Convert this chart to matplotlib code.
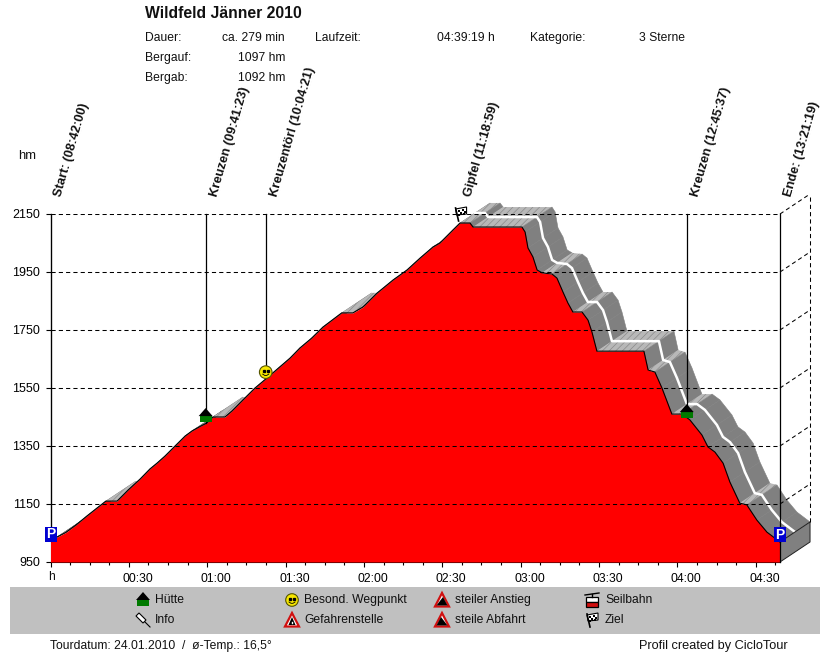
import matplotlib
matplotlib.use("Agg")
import matplotlib.pyplot as plt
from matplotlib.patches import Polygon, Circle, Rectangle
from matplotlib.transforms import ScaledTranslation

plt.rcParams['font.family'] = ['Liberation Sans', 'DejaVu Sans']
plt.rcParams['hatch.linewidth'] = 0.5

# Elevation profile
profile_min = [0, 2.5, 5.9, 9.8, 14, 17.8, 21.2, 25.5, 29.7, 34.3, 38.1, 40.8, 43.8, 47.7, 51.5, 54.2,
               57.6, 59.8, 62.2, 66.8, 69.5, 73.7, 78.3, 82.8, 91.7, 95.5, 100, 104.3, 111.5, 115.8,
               119.6, 125, 131.1, 136.5, 141.5, 146.4, 149.1, 154.1, 156.8, 160.6, 161.8, 180.5,
               181.7, 182.8, 184.7, 186.3, 188.2, 192, 193.9, 196.2, 198.1, 200, 203.5, 205.8, 207.3,
               209.2, 227.2, 228.8, 231.4, 234.1, 237.9, 241.8, 244.8, 249.4, 251.7, 254.4, 257.5,
               260.1, 263.9, 266.6, 270.4, 274.3, 279.3]
profile_hm = [1021, 1036, 1052, 1078, 1109, 1136, 1160, 1160, 1198, 1236, 1271, 1291, 1315, 1350, 1384, 1402,
              1419, 1429, 1450, 1450, 1471, 1509, 1550, 1584, 1653, 1688, 1722, 1760, 1809, 1809,
              1829, 1877, 1922, 1957, 1998, 2036, 2050, 2095, 2119, 2119, 2105, 2105,
              2088, 2033, 2002, 1957, 1947, 1943, 1929, 1881, 1843, 1812, 1812, 1784, 1743,
              1677, 1677, 1612, 1605, 1550, 1460, 1460, 1440, 1388, 1347, 1329, 1291,
              1226, 1153, 1147, 1095, 1053, 1019]

y_ticks = [950, 1150, 1350, 1550, 1750, 1950, 2150]
x_ticks = [0, 30, 60, 90, 120, 150, 180, 210, 240, 270]
x_labels = ['', '00:30', '01:00', '01:30', '02:00', '02:30', '03:00', '03:30', '04:00', '04:30']
minor_ticks = [7.5, 15, 22.5, 37.5, 45, 52.5, 67.5, 75, 82.5, 97.5, 105, 112.5, 127.5, 135, 142.5,
               157.5, 165, 172.5, 187.5, 195, 202.5, 217.5, 225, 232.5, 247.5, 255, 262.5, 277.5]

way_names = ['Start: (08:42:00)', 'Kreuzen (09:41:23)', 'Kreuzentörl (10:04:21)',
             'Gipfel (11:18:59)', 'Kreuzen (12:45:37)', 'Ende: (13:21:19)']
way_min = [0, 59.4, 82.4, 157.0, 243.6, 279.3]
way_hm = [1021, 1429, 1584, 2119, 1460, 1019]

total_min = 279.3
depth_min = 11.5   # 3D depth of the ribbon
depth_hm = 69

fig = plt.figure(figsize=(8.3, 6.52), dpi=100)
ax = fig.add_axes([50.5 / 830, (652 - 562) / 652, 729.5 / 830, 348 / 652])
ax.set_xlim(0, total_min)
ax.set_ylim(950, 2150)

# overlay in pixels for text and icons
ov = fig.add_axes([0, 0, 1, 1], zorder=5)
ov.set_xlim(0, 830)
ov.set_ylim(652, 0)
ov.axis('off')


def to_px(t, h):
    return ov.transData.inverted().transform(ax.transData.transform((t, h)))


# ribbon
for i in range(len(profile_min) - 1):
    t0, t1 = profile_min[i], profile_min[i + 1]
    h0, h1 = profile_hm[i], profile_hm[i + 1]
    xs = [t0, t1, t1 + depth_min, t0 + depth_min]
    ys = [h0, h1, h1 + depth_hm, h0 + depth_hm]
    if abs(h1 - h0) / (t1 - t0) < 3:
        ax.fill(xs, ys, facecolor='#b8b8b8', edgecolor='#8a8a8a', hatch='/////', lw=0, clip_on=False, zorder=2)
    else:
        ax.fill(xs, ys, facecolor='#808080', edgecolor='#808080', lw=0.4, clip_on=False, zorder=2)

# the white centre line only shows on the way down
summit = profile_hm.index(max(profile_hm))
ax.plot([t + depth_min / 2 for t in profile_min[summit:]], [h + depth_hm / 2 for h in profile_hm[summit:]],
        color='white', lw=1.8, clip_on=False, zorder=3)

# end wall
ax.fill([total_min, total_min, total_min + depth_min, total_min + depth_min],
        [950, profile_hm[-1], profile_hm[-1] + depth_hm, 950 + depth_hm],
        facecolor='#808080', edgecolor='#222222', lw=0.7, clip_on=False, zorder=4)

# profile
ax.fill_between(profile_min, profile_hm, 950, color='#ff0000', lw=0, zorder=4)
ax.plot(profile_min, profile_hm, color='black', lw=0.8, zorder=5)

# grid, also across the red area
dash = (0, (4, 3))
for h in y_ticks[1:]:
    ax.plot([0, total_min], [h, h], color='black', lw=0.75, ls=dash, zorder=6)
    ax.plot([total_min, total_min + depth_min], [h, h + depth_hm], color='black', lw=0.75, ls=dash,
            clip_on=False, zorder=6)
ax.plot([total_min + depth_min] * 2, [profile_hm[-1] + depth_hm, 2150 + depth_hm],
        color='black', lw=0.75, ls=dash, clip_on=False, zorder=6)

# waypoint lines
for t, h in zip(way_min, way_hm):
    if t == way_min[3]:
        continue
    ax.plot([t, t], [h, 2150], color='black', lw=0.9, clip_on=False, zorder=6)
ax.plot([total_min, total_min], [950, way_hm[5]], color='black', lw=0.9, clip_on=False, zorder=6)

ax.spines['top'].set_visible(False)
ax.spines['right'].set_visible(False)
ax.set_xticks(x_ticks)
ax.set_xticklabels(x_labels, fontsize=8.7)
ax.set_xticks(minor_ticks, minor=True)
ax.set_yticks(y_ticks)
ax.tick_params(axis='x', which='major', length=3.6, width=0.8, pad=4)
ax.tick_params(axis='x', which='minor', length=1.8, width=0.8)
ax.tick_params(axis='y', length=3.6, width=0.8, labelsize=9, pad=4)
shift = ScaledTranslation(9 / 100, 0, fig.dpi_scale_trans)
for lab in ax.get_xticklabels():
    lab.set_transform(lab.get_transform() + shift)

txt = dict(fontsize=8.7, color='#111111', va='center')
ov.text(145, 13, 'Wildfeld Jänner 2010', fontsize=11.3, fontweight='bold', va='center', color='#111111')
ov.text(145, 38, 'Dauer:', **txt)
ov.text(145, 58, 'Bergauf:', **txt)
ov.text(145, 78, 'Bergab:', **txt)
ov.text(285, 38, 'ca. 279 min', ha='right', **txt)
ov.text(285, 58, '1097 hm', ha='right', **txt)
ov.text(285, 78, '1092 hm', ha='right', **txt)
ov.text(315, 38, 'Laufzeit:', **txt)
ov.text(437, 38, '04:39:19 h', **txt)
ov.text(530, 38, 'Kategorie:', **txt)
ov.text(639, 38, '3 Sterne', **txt)
ov.text(27, 156, 'hm', ha='center', fontsize=9.4, color='#111111', va='center')
ov.text(51, 577, 'h', ha='center', **txt)

for name, t in zip(way_names, way_min):
    px, _ = to_px(t, 2150)
    ov.text(px + 11, 197, name, rotation=74, rotation_mode='anchor', ha='left', va='baseline',
            fontsize=9.2, fontweight='bold', color='#111111')


def icon_p(x, y):
    ov.add_patch(Rectangle((x - 6, y - 7.5), 12, 15, fc='#0000d0', ec='none', zorder=8))
    ov.text(x, y, 'P', color='white', fontsize=10, fontweight='bold', ha='center', va='center', zorder=9)


def icon_house(x, y):
    ov.add_patch(Rectangle((x - 6, y), 12, 7, fc='#007a00', ec='none', zorder=8))
    ov.add_patch(Polygon([(x - 7, y + 1), (x, y - 7), (x + 7, y + 1)], fc='black', ec='none', zorder=8))


def icon_smiley(x, y):
    ov.add_patch(Circle((x, y), 6.3, fc='#f6e600', ec='#555500', lw=0.8, zorder=8))
    ov.plot([x - 2, x + 2], [y - 1.5, y - 1.5], ls='none', marker='s', ms=1.4, color='black', zorder=9)
    ov.plot([x - 3, x - 1, x + 1, x + 3], [y + 2, y + 3.3, y + 3.3, y + 2], color='black', lw=0.6, zorder=9)


def icon_warn(x, y, kind):
    ov.add_patch(Polygon([(x - 7, y + 6.5), (x, y - 7), (x + 7, y + 6.5)], fc='white', ec='#d01010', lw=1.6,
                         joinstyle='miter', zorder=8))
    if kind == 'danger':
        ov.add_patch(Polygon([(x - 3.5, y + 5), (x, y - 3), (x + 3.5, y + 5)], fc='black', ec='none', zorder=9))
        ov.plot([x, x], [y + 1.5, y + 2.5], color='white', lw=1, zorder=9)
    elif kind == 'up':
        ov.add_patch(Polygon([(x - 5.5, y + 5.5), (x + 1, y - 3), (x + 5.5, y + 5.5)], fc='black', ec='none', zorder=9))
    else:
        ov.add_patch(Polygon([(x - 5.5, y + 5.5), (x - 1, y - 3), (x + 5.5, y + 5.5)], fc='black', ec='none', zorder=9))


def icon_cable(x, y):
    ov.plot([x - 7, x + 7], [y - 5, y - 7], color='black', lw=1, zorder=9)
    ov.plot([x, x], [y - 6, y - 3], color='black', lw=1, zorder=9)
    ov.add_patch(Rectangle((x - 6, y - 3), 12, 5, fc='white', ec='black', lw=0.9, zorder=8))
    ov.add_patch(Rectangle((x - 6, y + 2), 12, 4.5, fc='#d01010', ec='black', lw=0.9, zorder=8))


def icon_flag(x, y):
    ov.plot([x - 5, x - 2], [y - 6, y + 7], color='black', lw=1.2, zorder=9)
    ov.add_patch(Polygon([(x - 5, y - 5), (x + 6, y - 7), (x + 6, y), (x - 4, y + 1)], fc='white', ec='black',
                         lw=0.8, zorder=8))
    for a, b in [(-3, -4), (1, -5), (-1, -2), (3, -3), (-3, 0), (2, -1)]:
        ov.add_patch(Rectangle((x + a, y + b), 2, 2, fc='black', ec='none', zorder=9))


def icon_pin(x, y):
    ov.plot([x + 2, x + 7], [y + 2, y + 7], color='black', lw=0.8, zorder=9)
    ov.add_patch(Polygon([(x - 7, y - 4), (x - 4, y - 7), (x + 3, y + 0), (x + 0, y + 3)], fc='white', ec='black',
                         lw=0.8, zorder=8))


# icons on the chart
x0, y0 = to_px(way_min[0], way_hm[0])
icon_p(x0, y0 - 7)
x5, y5 = to_px(way_min[5], way_hm[5])
icon_p(x5, y5 - 7)
x1, y1 = to_px(way_min[1], way_hm[1])
icon_house(x1, y1 - 8)
x2, y2 = to_px(way_min[2], way_hm[2])
icon_smiley(x2, y2 - 6)
x3, y3 = to_px(way_min[3], way_hm[3])
icon_flag(x3, y3 - 9)
x4, y4 = to_px(way_min[4], way_hm[4])
icon_house(x4, y4 - 3)

# legend band
ov.add_patch(Rectangle((10, 587), 810, 47, fc='#c0c0c0', ec='none', zorder=1))
for tx, ty, s in [(155, 600, 'Hütte'), (155, 620, 'Info'), (304, 600, 'Besond. Wegpunkt'),
                  (304, 620, 'Gefahrenstelle'), (455, 600, 'steiler Anstieg'), (455, 620, 'steile Abfahrt'),
                  (605, 600, 'Seilbahn'), (605, 620, 'Ziel')]:
    ov.text(tx, ty, s, zorder=9, **txt)
icon_house(143, 599)
icon_pin(143, 620)
icon_smiley(292, 600)
icon_warn(292, 620, 'danger')
icon_warn(442, 600, 'up')
icon_warn(442, 620, 'down')
icon_cable(592, 600)
icon_flag(592, 620)

ov.text(50, 646, 'Tourdatum: 24.01.2010  /  ø-Temp.: 16,5°', **txt)
ov.text(788, 646, 'Profil created by CicloTour', ha='right', fontsize=9.2, color='#111111', va='center')

fig.savefig('out.png', dpi=100)
